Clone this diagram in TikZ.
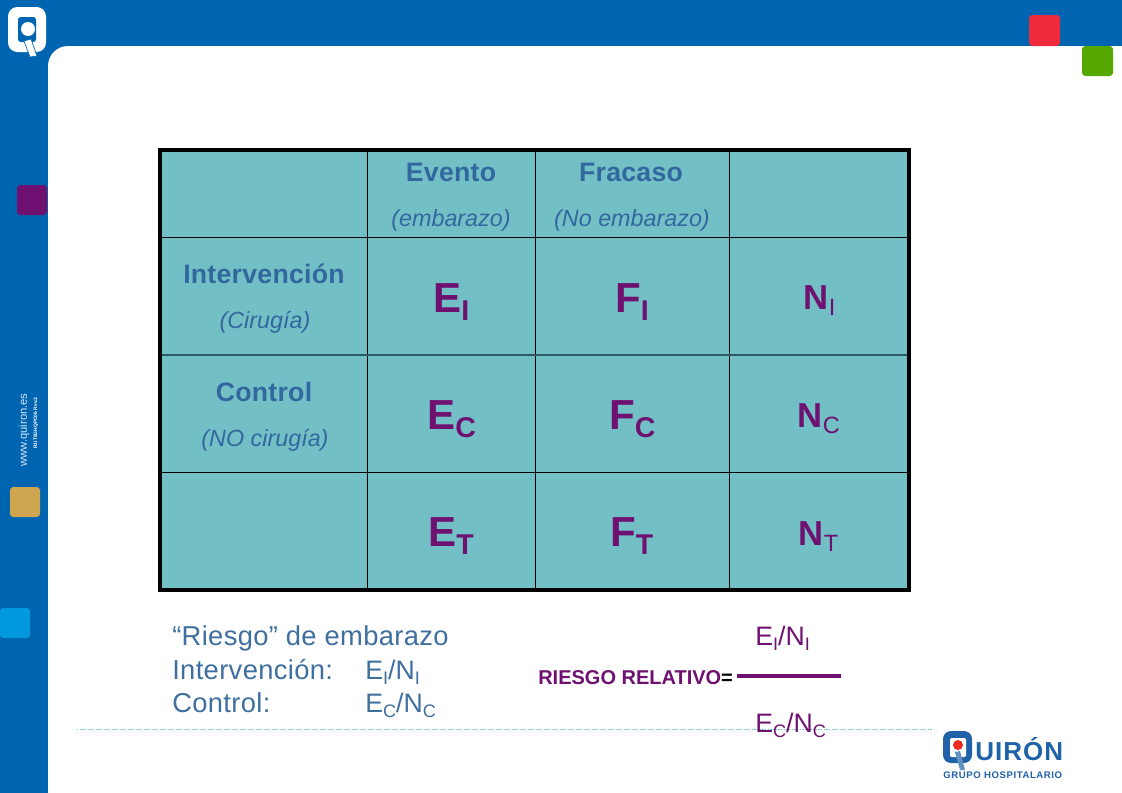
\documentclass[tikz,border=0pt]{standalone}
\usepackage{fontspec}
\setmainfont{Liberation Sans}
\definecolor{qblue}{HTML}{0065B1}
\definecolor{qteal}{HTML}{72BFC6}
\definecolor{qpurple}{HTML}{6F1170}
\definecolor{qhead}{HTML}{33689F}
\definecolor{qgrey}{HTML}{3F6F9F}
\definecolor{qline}{HTML}{6CC4D2}
\definecolor{qrule}{HTML}{2C5A63}
\definecolor{sqred}{HTML}{EE2B3C}
\definecolor{sqgreen}{HTML}{54A800}
\definecolor{sqtan}{HTML}{CFA550}
\definecolor{sqcyan}{HTML}{0099DD}
\definecolor{logored}{HTML}{EE2B1E}
\definecolor{logoblue}{HTML}{1F62A8}
\tikzset{
  x=0.75pt,y=-0.75pt,
  square/.style={rounded corners=2.5pt,draw=none},
  headb/.style={font=\fontsize{20}{24}\selectfont\bfseries\addfontfeature{LetterSpace=1},text=qhead,inner sep=0pt,anchor=base},
  headi/.style={font=\fontsize{17.5}{20}\selectfont\itshape,text=qhead,inner sep=0pt,anchor=base},
  big/.style={font=\fontsize{31.5}{36}\selectfont\bfseries,text=qpurple,inner sep=0pt,anchor=base west},
  mid/.style={font=\fontsize{26}{30}\selectfont\bfseries,text=qpurple,inner sep=0pt,anchor=base west},
  txt/.style={font=\fontsize{20}{24}\selectfont,text=qgrey,inner sep=0pt,anchor=base west},
  spaced/.style={font=\fontsize{20.5}{24}\selectfont\addfontfeature{LetterSpace=1.3},text=qgrey,inner sep=0pt,anchor=base west},
  frac/.style={font=\fontsize{20}{24}\selectfont,text=qpurple,inner sep=0pt,anchor=base west},
}
\newcommand{\subs}[1]{\raisebox{-0.2em}{\scalebox{0.68}{#1}}}
\newcommand{\subr}[1]{\raisebox{-0.2em}{\scalebox{0.68}{\mdseries #1}}}
\begin{document}
\begin{tikzpicture}
\useasboundingbox (0,0) rectangle (1122,793);
% background
\fill[qblue] (0,0) rectangle (1122,793);
\fill[white,rounded corners=15pt] (48,46) rectangle (1180,860);
\fill[white] (48,100) rectangle (1122,793);
\fill[white] (100,46) rectangle (1122,793);
% coloured squares
\fill[square,fill=sqred] (1029,15) rectangle (1060,46);
\fill[square,fill=sqgreen] (1082,46) rectangle (1113,76);
\fill[square,fill=qpurple] (17,185) rectangle (47,215);
\fill[square,fill=sqtan] (10,487) rectangle (40,517);
\fill[square,fill=sqcyan] (0,608) rectangle (30,638);
% top-left logo
\fill[white,rounded corners=7pt] (8,7) rectangle (46,52);
\fill[qblue,rounded corners=2pt] (18,17) rectangle (36,42);
\fill[white] (28,29) circle (7);
\filldraw[fill=white,draw=qblue,line width=0.5pt] (24,41) -- (31,39) -- (37,56) -- (30,57) -- cycle;
% side text
\node[rotate=90,text=white!85!qblue,font=\fontsize{8.4}{10}\selectfont,inner sep=0pt] (web) at (24,430) {www.quiron.es};
\node[rotate=90,text=white,font=\fontsize{3.7}{5}\selectfont\bfseries,inner sep=0pt] (code) at (36,423) {R1IT8GHQPC06 Rev.3};
% table
\fill[qteal] (160,150) rectangle (909,590);
\draw[black,line width=0.7pt] (367,150) -- (367,590) (535,150) -- (535,590) (729,150) -- (729,590)
  (160,237) -- (909,237) (160,472) -- (909,472);
\draw[qrule,line width=1pt] (160,355) -- (909,355);
\draw[black,line width=2.6pt] (160,150) rectangle (909,590);
% header
\node[headb] (h1) at (451,181) {Evento};
\node[headi] (h1b) at (451,226) {(embarazo)};
\node[headb] (h2) at (631,181) {Fracaso};
\node[headi] (h2b) at (632,226) {(No embarazo)};
\node[headb] (r1) at (264,283) {Intervención};
\node[headi] (r1b) at (265,328) {(Cirugía)};
\node[headb] (r2) at (264,401) {Control};
\node[headi] (r2b) at (265,446) {(NO cirugía)};
% cells
\node[big] (ei) at (433,312) {E\subs{I}};
\node[big] (fi) at (615,312) {F\subs{I}};
\node[mid] (ni) at (803.5,309) {N\subr{I}};
\node[big] (ec) at (427,429) {E\subs{C}};
\node[big] (fc) at (609,429) {F\subs{C}};
\node[mid] (nc) at (797.5,427) {N\subr{C}};
\node[big] (et) at (428,546) {E\subs{T}};
\node[big] (ft) at (610,546) {F\subs{T}};
\node[mid] (nt) at (798.5,545) {N\subr{T}};
% dotted line
\coordinate (da) at (77,729);
\coordinate (db) at (933,729);
\draw[qline,line width=0.75pt,dash pattern=on 1pt off 1pt] (da) -- (db);
% left text
\node[spaced] (t1) at (172,645) {“Riesgo” de embarazo};
\node[spaced] (t2) at (172,679) {Intervención:};
\node[txt] (t3) at (365,679) {E\subs{I}/N\subs{I}};
\node[spaced] (t4) at (172,712) {Control:};
\node[txt] (t5) at (365,712) {E\subs{C}/N\subs{C}};
% right formula
\node[frac] (f1) at (755,645) {E\subs{I}/N\subs{I}};
\node[frac] (f2) at (755,732) {E\subs{C}/N\subs{C}};
\node[inner sep=0pt,anchor=base west,font=\fontsize{15}{18}\selectfont\bfseries,text=qpurple] (rr) at (538,684) {RIESGO RELATIVO\textcolor{black}{=}};
\coordinate (ba) at (737,676);
\coordinate (bb) at (841,676);
\draw[qpurple,line width=3pt] (ba) -- (bb);
% bottom-right logo
\fill[logoblue,rounded corners=6pt] (943,731) rectangle (972,763);
\fill[white,rounded corners=1pt] (950,738) rectangle (966,757);
\fill[logored] (958,745) circle (5);
\fill[logoblue!70!white] (955,752) -- (960,751) -- (965,770) -- (960,770) -- cycle;
\node[inner sep=0pt,anchor=base west,text=logoblue,font=\fontsize{19.5}{24}\selectfont\bfseries\addfontfeature{LetterSpace=4}] (qn) at (975,760) {UIRÓN};
\node[inner sep=0pt,anchor=base west,text=logoblue,font=\fontsize{7.2}{9}\selectfont\bfseries\addfontfeature{LetterSpace=6}] (qs) at (943,778) {GRUPO HOSPITALARIO};
\end{tikzpicture}
\end{document}
